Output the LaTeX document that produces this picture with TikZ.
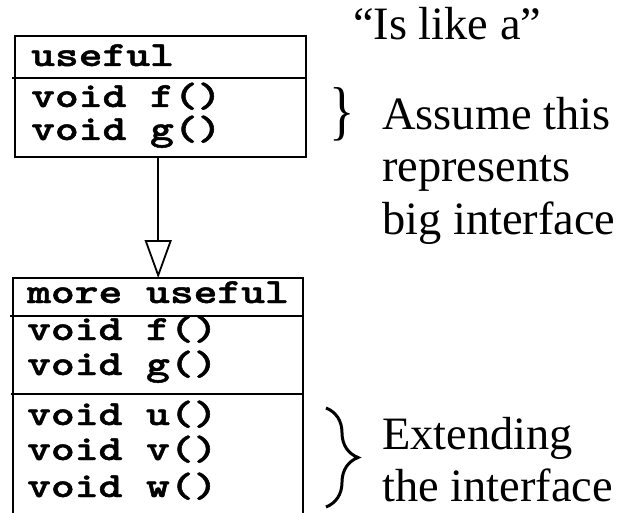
\documentclass[tikz,border=0pt]{standalone}
\usepackage{graphicx}
\usepackage{fontspec}
\setmainfont{Liberation Serif}
\newfontfamily\codefont{lmmonolt10-bold.otf}[FakeBold=1.2]
\usetikzlibrary{arrows.meta,decorations.pathreplacing}
\newcommand\codetxt[1]{\scalebox{1}[0.78]{#1}}
\tikzset{
  boxline/.style={line width=2pt},
  code/.style={anchor=base west, inner sep=0pt, font=\codefont\fontsize{45.3}{46}\selectfont},
  lbl/.style={anchor=base west, inner sep=0pt, font=\fontsize{46.4}{50}\selectfont},
}
\begin{document}
\begin{tikzpicture}[x=1pt,y=-1pt]
\useasboundingbox (0,0) rectangle (621,513);
% top class
\node[draw, boxline, minimum width=291pt, minimum height=121pt, inner sep=0pt, anchor=north west] (useful) at (14,35) {};
\draw[boxline] (12,78) -- (305,78);
\node[code] (t1) at (31,66) {\codetxt{useful}};
\node[code] (t2) at (31,107) {\codetxt{void f()}};
\node[code] (t3) at (31,140) {\codetxt{void g()}};
% bottom class
\node[minimum width=290pt, minimum height=236pt, inner sep=0pt, anchor=north west] (more) at (13,278) {};
\draw[boxline] (more.south west) -- (more.north west) -- (more.north east) -- (more.south east);
\draw[boxline] (10,316) -- (303,316);
\draw[boxline] (11,394) -- (303,394);
\node[code] (m1) at (27,303) {\codetxt{more useful}};
\node[code] (m2) at (27,340) {\codetxt{void f()}};
\node[code] (m3) at (27,375) {\codetxt{void g()}};
\node[code] (m4) at (27,425) {\codetxt{void u()}};
\node[code] (m5) at (27,460) {\codetxt{void v()}};
\node[code] (m6) at (27,497) {\codetxt{void w()}};
% inheritance
\draw[line width=1.8pt, -{Triangle[open, length=38pt, width=27pt, line width=1.8pt]}] (useful.south -| more.north) -- (more.north);
% annotations
\node[lbl] (islike) at (353,40) {“Is like a”};
\node[inner sep=0pt, font=\fontsize{48}{48}\selectfont] (brace1) at (342,114) {\scalebox{1.1}[1.35]{\}}};
\node[lbl] (assume) at (382,130) {Assume this};
\node[lbl] (repr) at (382,182) {represents};
\node[lbl] (big) at (382,234) {big interface};
\coordinate (bt) at (326,408);
\coordinate (bb) at (326,507);
\draw[line width=3pt, decorate, decoration={brace, amplitude=32pt}] (bt) -- (bb);
\node[lbl] (ext) at (382,449) {Extending};
\node[lbl] (theint) at (382,501) {the interface};
\end{tikzpicture}
\end{document}
